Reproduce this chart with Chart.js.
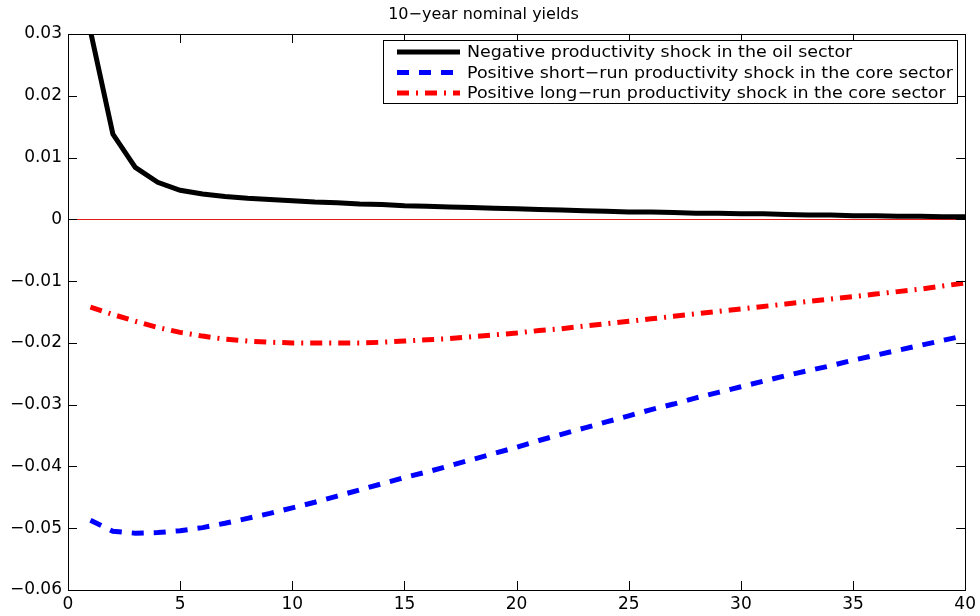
<!DOCTYPE html>
<html>
<head>
<meta charset="utf-8">
<script src="https://cdn.jsdelivr.net/npm/chart.js@4/dist/chart.umd.min.js"></script>
<style>
  html, body { margin: 0; padding: 0; background: #fff; }
  #wrap { width: 980px; height: 616px; }
</style>
</head>
<body>
<div id="wrap"><canvas id="c" width="980" height="616"></canvas></div>
<script>
// horizon (quarters)
const periods = [1,2,3,4,5,6,7,8,9,10,11,12,13,14,15,16,17,18,19,20,
                 21,22,23,24,25,26,27,28,29,30,31,32,33,34,35,36,37,38,39,40];

// Negative productivity shock in the oil sector
const oilShock = [0.0305,0.0138,0.0084,0.0060,0.0047,0.0041,0.0037,0.0034,0.0032,0.0030,
                  0.0028,0.0027,0.0025,0.0024,0.0022,0.0021,0.0020,0.0019,0.0018,0.0017,
                  0.0016,0.0015,0.0014,0.0013,0.0012,0.0012,0.0011,0.0010,0.0010,0.0009,
                  0.0009,0.0008,0.0007,0.0007,0.0006,0.0006,0.0005,0.0005,0.0004,0.0004];

// Positive short-run productivity shock in the core sector
const coreShort = [-0.0487,-0.0505,-0.0508,-0.0507,-0.0504,-0.0499,-0.0492,-0.0484,-0.0476,-0.0467,
                   -0.0458,-0.0448,-0.0438,-0.0428,-0.0418,-0.0409,-0.0399,-0.0389,-0.0379,-0.0369,
                   -0.0358,-0.0348,-0.0338,-0.0328,-0.0318,-0.0308,-0.0299,-0.0289,-0.0280,-0.0271,
                   -0.0262,-0.0253,-0.0245,-0.0237,-0.0228,-0.0220,-0.0212,-0.0204,-0.0196,-0.0188];

// Positive long-run productivity shock in the core sector
const coreLong = [-0.0142,-0.0154,-0.0165,-0.0175,-0.0183,-0.0189,-0.0194,-0.0197,-0.0199,-0.0200,
                  -0.0200,-0.0200,-0.0200,-0.0199,-0.0197,-0.0195,-0.0193,-0.0190,-0.0187,-0.0184,
                  -0.0180,-0.0177,-0.0173,-0.0169,-0.0165,-0.0161,-0.0157,-0.0153,-0.0149,-0.0145,
                  -0.0141,-0.0137,-0.0133,-0.0129,-0.0125,-0.0121,-0.0117,-0.0113,-0.0108,-0.0103];

const seriesNames = ['Negative productivity shock in the oil sector',
                     'Positive short\u2212run productivity shock in the core sector',
                     'Positive long\u2212run productivity shock in the core sector'];

const xTicks = [0,5,10,15,20,25,30,35,40];
const yTicks = [-0.06,-0.05,-0.04,-0.03,-0.02,-0.01,0,0.01,0.02,0.03];

const FONT = 'DejaVu Sans';
Chart.defaults.font.family = FONT;
Chart.defaults.color = '#000';

function pts(vals) {
  return periods.map((p, i) => ({x: p, y: vals[i]}));
}

// inward ticks, box, and the legend box (matlab style)
const matlabFrame = {
  id: 'matlabFrame',
  afterDraw(chart) {
    const ctx = chart.ctx;
    const a = chart.chartArea;
    const xs = chart.scales.x, ys = chart.scales.y;
    const tl = 9;
    ctx.save();
    ctx.strokeStyle = '#000';
    ctx.lineWidth = 1;
    ctx.setLineDash([]);
    ctx.beginPath();
    xTicks.forEach(v => {
      const px = Math.round(xs.getPixelForValue(v)) + 0.5;
      ctx.moveTo(px, a.bottom); ctx.lineTo(px, a.bottom - tl);
      ctx.moveTo(px, a.top); ctx.lineTo(px, a.top + tl);
    });
    yTicks.forEach(v => {
      const py = Math.round(ys.getPixelForValue(v)) + 0.5;
      ctx.moveTo(a.left, py); ctx.lineTo(a.left + tl, py);
      ctx.moveTo(a.right, py); ctx.lineTo(a.right - tl, py);
    });
    ctx.stroke();
    ctx.strokeRect(Math.round(a.left) + 0.5, Math.round(a.top) + 0.5,
                   Math.round(a.right - a.left), Math.round(a.bottom - a.top));

    // legend
    const lx = 383.5, ly = 40.5, lw = 574, lh = 63;
    ctx.fillStyle = '#fff';
    ctx.fillRect(lx, ly, lw, lh);
    ctx.strokeRect(lx, ly, lw, lh);
    ctx.font = '16px "' + FONT + '"';
    ctx.textBaseline = 'middle';
    ctx.textAlign = 'left';
    chart.data.datasets.forEach((ds, i) => {
      const yy = 52 + i * 20.5;
      ctx.beginPath();
      ctx.strokeStyle = ds.borderColor;
      ctx.lineWidth = ds.borderWidth;
      ctx.setLineDash(ds.borderDash || []);
      ctx.moveTo(397, yy); ctx.lineTo(460, yy);
      ctx.stroke();
      ctx.setLineDash([]);
      ctx.fillStyle = '#000';
      // reference text is a bit wider than the font, stretch it
      ctx.save();
      ctx.translate(467, yy + 1);
      ctx.scale(1.09, 1);
      ctx.fillText(ds.label, 0, 0);
      ctx.restore();
    });
    ctx.restore();
  }
};

new Chart(document.getElementById('c'), {
  type: 'line',
  data: {
    datasets: [
      { label: seriesNames[0], data: pts(oilShock), borderColor: '#000000',
        borderWidth: 5, borderDash: [], pointRadius: 0, tension: 0, clip: 0 },
      { label: seriesNames[1], data: pts(coreShort), borderColor: '#0000ff',
        borderWidth: 5, borderDash: [12, 10], pointRadius: 0, tension: 0, clip: 0 },
      { label: seriesNames[2], data: pts(coreLong), borderColor: '#ff0000',
        borderWidth: 5, borderDash: [12, 7, 2, 7], pointRadius: 0, tension: 0, clip: 0 }
    ]
  },
  options: {
    responsive: false,
    animation: false,
    layout: { padding: { left: 0, right: 13, top: 0, bottom: 0 } },
    plugins: {
      legend: { display: false },
      tooltip: { enabled: false },
      title: {
        display: true,
        text: '10\u2212year nominal yields',
        font: { size: 16, weight: 'normal' },
        color: '#000',
        padding: { top: 5, bottom: 9.8 }
      }
    },
    scales: {
      x: {
        type: 'linear',
        min: 0, max: 40,
        afterFit: s => { s.height = 26; },
        afterBuildTicks: s => { s.ticks = xTicks.map(v => ({value: v})); },
        ticks: { font: { size: 17 }, padding: 4, maxRotation: 0, autoSkip: false },
        grid: { display: false, drawTicks: false },
        border: { display: true, color: '#000', width: 1 }
      },
      y: {
        type: 'linear',
        min: -0.06, max: 0.03,
        afterFit: s => { s.width = 68; },
        afterBuildTicks: s => { s.ticks = yTicks.map(v => ({value: v})); },
        ticks: {
          font: { size: 17 }, padding: 6, autoSkip: false,
          callback: v => {
            const r = Math.round(v * 100) / 100;
            return r === 0 ? '0' : String(r).replace('-', '\u2212');
          }
        },
        grid: {
          drawTicks: false,
          lineWidth: 1,
          color: c => (c.tick && Math.abs(c.tick.value) < 1e-9) ? '#e31a1a' : 'rgba(0,0,0,0)'
        },
        border: { display: true, color: '#000', width: 1 }
      }
    }
  },
  plugins: [matlabFrame]
});
</script>
</body>
</html>
